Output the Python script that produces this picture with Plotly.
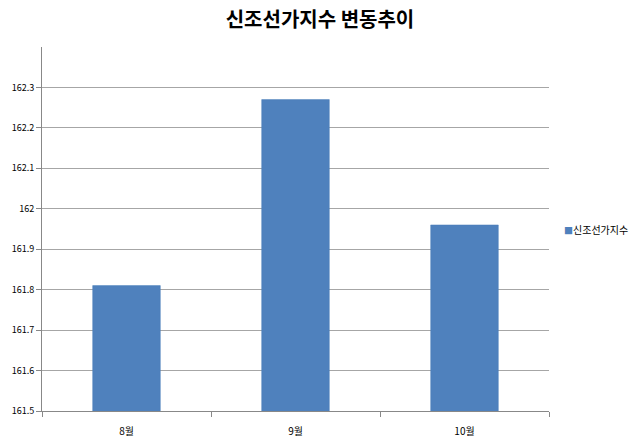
import plotly.graph_objects as go

months = ['8월', '9월', '10월']
index_values = [161.81, 162.27, 161.96]
y_ticks = [161.5, 161.6, 161.7, 161.8, 161.9, 162.0, 162.1, 162.2, 162.3]
y_labels = ['161.5', '161.6', '161.7', '161.8', '161.9', '162',
            '162.1', '162.2', '162.3']
series_name = '신조선가지수'
bar_color = '#4F81BD'

font_name = 'Noto Sans CJK KR'

fig = go.Figure()
fig.add_trace(go.Bar(x=months, y=index_values, name=series_name,
                     showlegend=False,
                     marker=dict(color=bar_color,
                                 line=dict(color='#4A7EBB', width=0.5))))

# legend drawn as text so the small square sits close to the label
fig.add_annotation(
    xref='paper', yref='paper', x=1.025, y=0.5, xanchor='left',
    yanchor='middle', showarrow=False,
    text='<span style="color:%s;font-size:9px">■</span>%s' % (bar_color,
                                                              series_name),
    font=dict(family=font_name, size=10, color='#000000'))

fig.update_layout(
    width=640, height=445,
    margin=dict(l=42, r=91, t=47, b=34, autoexpand=False),
    paper_bgcolor='white', plot_bgcolor='white',
    font=dict(family=font_name, size=10, color='#000000'),
    title=dict(text='<b>신조선가지수 변동추이</b>', x=0.5, xanchor='center',
               y=0.956, yanchor='middle',
               font=dict(family=font_name, size=20, color='#000000')),
    bargap=0.6,
    showlegend=False,
)
fig.update_xaxes(showline=True, linecolor='#888888', linewidth=1,
                 ticks='outside', tickson='boundaries', ticklen=5,
                 tickcolor='#888888', showgrid=False, automargin=False,
                 ticklabelstandoff=11, tickfont=dict(size=10))
fig.update_yaxes(range=[161.5, 162.4], tickvals=y_ticks, ticktext=y_labels,
                 showline=True, linecolor='#888888', linewidth=1,
                 ticks='outside', ticklen=5, tickcolor='#888888',
                 showgrid=True, gridcolor='#A6A6A6', gridwidth=1,
                 zeroline=False, automargin=False, tickfont=dict(size=9))

# drop the default 8px page margin so the figure fills the window
fig.write_html('out.html', config={'displayModeBar': False},
               post_script="document.body.style.margin='0';")
